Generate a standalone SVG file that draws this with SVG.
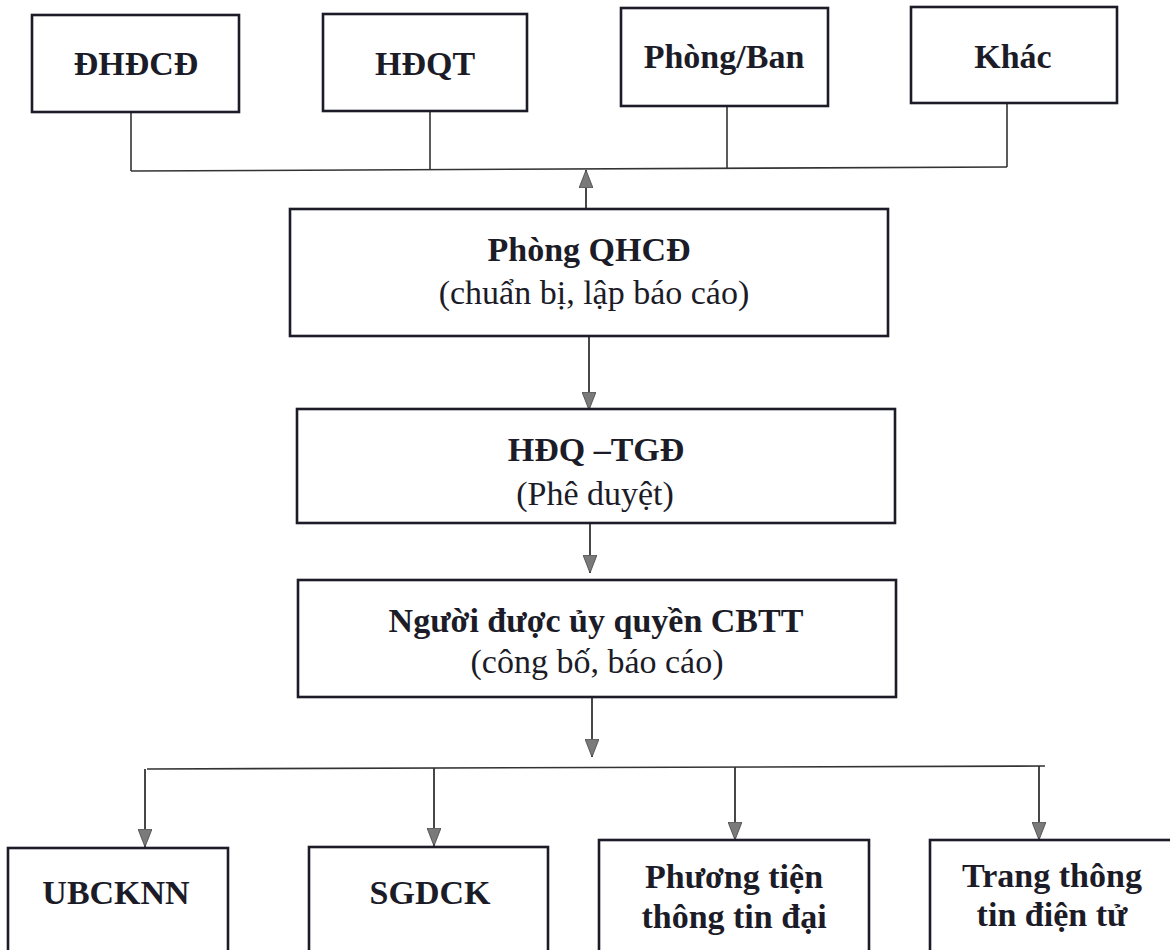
<svg xmlns="http://www.w3.org/2000/svg" width="1170" height="950" viewBox="0 0 1170 950">
<style>
.box{fill:#fff;stroke:#1c1c28;stroke-width:2.6}
.t{font-family:"Liberation Serif","Times New Roman",serif;font-size:34px;fill:#1c1c28;text-anchor:middle}
.b{font-weight:bold}
.ln{stroke:#333;stroke-width:1.6;fill:none}
.ar{stroke:#333;stroke-width:1.8;fill:none;marker-end:url(#ah)}
</style>
<defs>
<marker id="ah" viewBox="0 0 18 14" refX="18" refY="7" markerWidth="18" markerHeight="14" markerUnits="userSpaceOnUse" orient="auto">
<path d="M0,0 L18,7 L0,14 z" fill="#7a7a7a" stroke="#444" stroke-width="0.8"/>
</marker>
</defs>
<rect width="1170" height="950" fill="#fff"/>
<g id="connectors">
<line class="ln" x1="131" y1="112" x2="131" y2="171"/>
<line class="ln" x1="430" y1="111" x2="430" y2="169"/>
<line class="ln" x1="727" y1="106" x2="727" y2="168"/>
<line class="ln" x1="1007" y1="103" x2="1007" y2="167"/>
<line class="ln" x1="131" y1="171" x2="1007" y2="167"/>
<line class="ar" x1="586" y1="209" x2="586" y2="170"/>
<line class="ar" x1="589" y1="336" x2="589" y2="410"/>
<line class="ar" x1="590" y1="523" x2="590" y2="573"/>
<line class="ar" x1="592" y1="697" x2="592" y2="757"/>
<line class="ln" x1="147" y1="769" x2="1045" y2="766"/>
<line class="ar" x1="145" y1="769" x2="145" y2="847"/>
<line class="ar" x1="434" y1="768" x2="434" y2="846"/>
<line class="ar" x1="735" y1="767" x2="735" y2="840"/>
<line class="ar" x1="1039" y1="766" x2="1039" y2="840"/>
</g>
<g id="n-dhdcd">
<rect class="box" x="32" y="15" width="207" height="97"/>
<text class="t b" x="136" y="75">ĐHĐCĐ</text>
</g>
<g id="n-hdqt">
<rect class="box" x="323" y="14" width="204" height="97"/>
<text class="t b" x="425" y="75">HĐQT</text>
</g>
<g id="n-phongban">
<rect class="box" x="621" y="8" width="207" height="98"/>
<text class="t b" x="724" y="68">Phòng/Ban</text>
</g>
<g id="n-khac">
<rect class="box" x="911" y="7" width="206" height="96"/>
<text class="t b" x="1013" y="68">Khác</text>
</g>
<g id="n-qhcd">
<rect class="box" x="290" y="209" width="598" height="127"/>
<text class="t b" x="589" y="261">Phòng QHCĐ</text>
<text class="t" x="594" y="304">(chuẩn bị, lập báo cáo)</text>
</g>
<g id="n-tgd">
<rect class="box" x="297" y="409" width="598" height="114"/>
<text class="t b" x="596" y="461">HĐQ –TGĐ</text>
<text class="t" x="595" y="505">(Phê duyệt)</text>
</g>
<g id="n-cbtt">
<rect class="box" x="298" y="580" width="598" height="117"/>
<text class="t b" x="596" y="632">Người được ủy quyền CBTT</text>
<text class="t" x="597" y="673">(công bố, báo cáo)</text>
</g>
<g id="n-ubcknn">
<rect class="box" x="8" y="848" width="220" height="120"/>
<text class="t b" x="116" y="904">UBCKNN</text>
</g>
<g id="n-sgdck">
<rect class="box" x="309" y="847" width="239" height="120"/>
<text class="t b" x="430" y="904">SGDCK</text>
</g>
<g id="n-ptttdc">
<rect class="box" x="599" y="840" width="270" height="130"/>
<text class="t b" x="734" y="888">Phương tiện</text>
<text class="t b" x="734" y="928">thông tin đại</text>
</g>
<g id="n-ttdt">
<rect class="box" x="930" y="840" width="245" height="130"/>
<text class="t b" x="1052" y="887">Trang thông</text>
<text class="t b" x="1052" y="926">tin điện tử</text>
</g>
</svg>
